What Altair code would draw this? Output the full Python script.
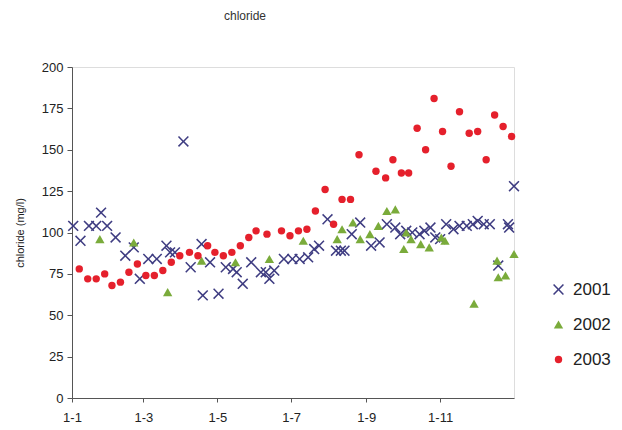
import altair as alt
import pandas as pd

# day of year (0 = 1 January) and chloride values (mg/l)
days_2001 = [1, 7, 14, 20, 24, 29, 36, 44, 51, 56, 63, 70, 78, 81, 85, 92, 98, 107, 108, 114,
             121, 127, 133, 136, 141, 148, 156, 160, 163, 167, 175, 182, 188, 195, 200, 204,
             211, 218, 222, 225, 231, 238, 247, 254, 260, 267, 271, 276, 281, 287, 291, 296,
             300, 304, 309, 315, 320, 326, 331, 335, 340, 345, 352, 360, 361, 365]
vals_2001 = [104, 95, 104, 104, 112, 104, 97, 86, 91, 72, 84, 84, 92, 88, 88, 155, 79, 93, 62, 82,
             63, 79, 78, 76, 69, 82, 76, 76, 72, 77, 84, 84, 84, 85, 90, 92,
             108, 89, 89, 89, 99, 106, 92, 94, 105, 103, 99, 101, 100, 99, 101, 103,
             97, 96, 105, 102, 104, 104, 105, 107, 105, 105, 80, 105, 103, 128]

days_2002 = [23, 51, 79, 107, 135, 163, 191, 219, 223, 232, 238, 246, 253, 260, 267, 274, 276,
             280, 288, 295, 305, 308, 332, 351, 352, 358, 365]
vals_2002 = [96, 94, 64, 83, 82, 84, 95, 96, 102, 106, 96, 99, 104, 113, 114, 90, 100,
             96, 93, 91, 97, 95, 57, 83, 73, 74, 87]

days_2003 = [6, 13, 20, 27, 33, 40, 47, 54, 61, 68, 75, 82, 89, 97, 104, 112, 118, 125, 132, 139,
             146, 152, 161, 173, 180, 187, 194, 201, 209, 216, 223, 230, 237, 251, 259, 265,
             272, 278, 285, 292, 299, 306, 313, 320, 328, 335, 342, 349, 356, 363]
vals_2003 = [78, 72, 72, 75, 68, 70, 76, 81, 74, 74, 77, 82, 86, 88, 86, 92, 88, 86, 88, 92,
             97, 101, 99, 101, 98, 101, 102, 113, 126, 105, 120, 120, 147, 137, 133, 144,
             136, 136, 163, 150, 181, 161, 140, 173, 160, 161, 144, 171, 164, 158]

years = ["2001", "2002", "2003"]
colors = ["#3f3d82", "#7aab3b", "#e5202c"]
x_path = "M-1,-0.8L-0.8,-1L0,-0.2L0.8,-1L1,-0.8L0.2,0L1,0.8L0.8,1L0,0.2L-0.8,1L-1,0.8L-0.2,0Z"
shapes = [x_path, "triangle-up", "circle"]
sizes = [120, 55, 90]

base = pd.Timestamp("2001-01-01")
rows = []
for yr, dd, vv in [("2001", days_2001, vals_2001), ("2002", days_2002, vals_2002),
                   ("2003", days_2003, vals_2003)]:
    for d, v in zip(dd, vv):
        rows.append({"date": (base + pd.Timedelta(days=d)).strftime("%Y-%m-%dT00:00:00"),
                     "chloride": v, "year": yr})
df = pd.DataFrame(rows)

tick_dates = [alt.DateTime(year=2001, month=m, date=1) for m in [1, 3, 5, 7, 9, 11]]

legend = alt.Legend(title=None, orient="none", legendX=478, legendY=214,
                    labelFontSize=17, labelFont="Liberation Sans", labelColor="#222",
                    rowPadding=17, labelOffset=6, symbolStrokeWidth=0)

chart = alt.Chart(df).mark_point(filled=True, opacity=1, strokeWidth=0).encode(
    x=alt.X("date:T",
            scale=alt.Scale(domain=[alt.DateTime(year=2001, month=1, date=1),
                                    alt.DateTime(year=2002, month=1, date=1)]),
            axis=alt.Axis(values=tick_dates, format="%-d-%-m", title=None, grid=False,
                          labelFontSize=13, labelFont="Liberation Sans", labelColor="#222",
                          labelPadding=9, tickSize=4, tickColor="#555", domainColor="#555",
                          labelFlush=False)),
    y=alt.Y("chloride:Q", scale=alt.Scale(domain=[0, 200]),
            axis=alt.Axis(values=[0, 25, 50, 75, 100, 125, 150, 175, 200], grid=False,
                          title="chloride (mg/l)", titleFontSize=11, titleFontWeight="normal",
                          titleFont="Liberation Sans", titleColor="#222", titlePadding=16,
                          labelFontSize=13, labelFont="Liberation Sans", labelColor="#222",
                          labelPadding=4, tickSize=5, tickColor="#555", domainColor="#555")),
    color=alt.Color("year:N", scale=alt.Scale(domain=years, range=colors), legend=legend),
    shape=alt.Shape("year:N", scale=alt.Scale(domain=years, range=shapes), legend=legend),
    size=alt.Size("year:N", scale=alt.Scale(domain=years, range=sizes), legend=legend),
).properties(
    width=442, height=331,
    padding={"left": 72, "top": 67, "right": 108, "bottom": 32},
    autosize=alt.AutoSizeParams(type="none"),
    title=alt.TitleParams("chloride", fontSize=12, fontWeight="normal",
                          font="Liberation Sans", color="#333", anchor="middle",
                          dx=-48, offset=38),
).configure_view(stroke="#999", strokeWidth=1).configure(background="white")

chart.save("out.html", embed_options={"renderer": "svg", "actions": False})
